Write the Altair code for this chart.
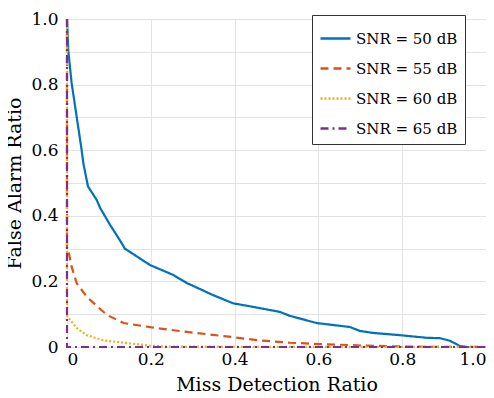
import altair as alt
import pandas as pd

labels = ["SNR = 50 dB", "SNR = 55 dB", "SNR = 60 dB", "SNR = 65 dB"]
colors = ["#0072BD", "#D95319", "#EDB120", "#7E2F8E"]
dashes = [[1, 0], [8, 5], [2, 2], [8, 4, 2, 4]]

x50 = [0, 0.003, 0.011, 0.035, 0.039, 0.05, 0.071, 0.079, 0.103, 0.126, 0.138, 0.198, 0.253, 0.286, 0.349,
       0.397, 0.433, 0.508, 0.532, 0.596, 0.675, 0.699, 0.730, 0.795, 0.859, 0.89, 0.914, 0.938, 0.955, 1.0]
y50 = [1.0, 0.905, 0.805, 0.60, 0.56, 0.49, 0.448, 0.424, 0.372, 0.326, 0.30, 0.25, 0.22, 0.195, 0.158,
       0.133, 0.125, 0.107, 0.095, 0.073, 0.061, 0.049, 0.043, 0.036, 0.028, 0.027, 0.019, 0.003, 0.0, 0.0]

x55 = [0, 0.0, 0.003, 0.011, 0.023, 0.047, 0.095, 0.135, 0.206, 0.286, 0.397, 0.433, 0.453, 0.532, 0.604,
       0.716, 0.82, 1.0]
y55 = [1.0, 0.30, 0.296, 0.245, 0.195, 0.153, 0.098, 0.073, 0.059, 0.046, 0.030, 0.024, 0.021, 0.013, 0.009,
       0.004, 0.001, 0.0]

x60 = [0, 0.0, 0.003, 0.023, 0.047, 0.087, 0.143, 0.198, 0.24, 1.0]
y60 = [1.0, 0.095, 0.09, 0.058, 0.036, 0.02, 0.012, 0.004, 0.001, 0.0]

x65 = [0, 0.0, 1.0]
y65 = [1.0, 0.0, 0.0]

rows = []
for lab, xs, ys in zip(labels, [x50, x55, x60, x65], [y50, y55, y60, y65]):
    for i, (a, b) in enumerate(zip(xs, ys)):
        rows.append({"series": lab, "x": a, "y": b, "order": i})
df = pd.DataFrame(rows)

font = "DejaVu Serif"

lines = alt.Chart(df).mark_line(strokeWidth=2.2, clip=False).encode(
    x=alt.X("x:Q", scale=alt.Scale(domain=[0, 1], nice=False),
            axis=alt.Axis(title="Miss Detection Ratio", values=[0, 0.2, 0.4, 0.6, 0.8, 1.0],
                          labelExpr="datum.value == 0 ? '0' : format(datum.value, '.1f')",
                          grid=True, gridColor="#e3e3e3", domain=False, ticks=False,
                          labelFont=font, labelFontSize=17, labelPadding=4,
                          titleFont=font, titleFontSize=19, titleFontWeight="normal",
                          titlePadding=8)),
    y=alt.Y("y:Q", scale=alt.Scale(domain=[0, 1], nice=False),
            axis=alt.Axis(title="False Alarm Ratio", values=[round(v * 0.1, 1) for v in range(11)],
                          labelExpr="datum.value == 0 ? '0' : (round(datum.value*10) % 2 == 0 ? format(datum.value, '.1f') : '')",
                          grid=True, gridColor="#e3e3e3", domain=False, ticks=False,
                          labelFont=font, labelFontSize=17, labelPadding=9,
                          titleFont=font, titleFontSize=19, titleFontWeight="normal",
                          titlePadding=6)),
    color=alt.Color("series:N", scale=alt.Scale(domain=labels, range=colors),
                    legend=alt.Legend(title=None, orient="none", legendX=245, legendY=-4,
                                      symbolType="stroke", symbolSize=900, symbolStrokeWidth=2.5,
                                      labelFont=font, labelFontSize=15,
                                      rowPadding=5, padding=7, fillColor="white",
                                      strokeColor="#333", labelLimit=200)),
    strokeDash=alt.StrokeDash("series:N", scale=alt.Scale(domain=labels, range=dashes), legend=None),
    order="order:O",
)

chart = lines.properties(
    width=419, height=328,
    autosize=alt.AutoSizeParams(type="none"),
    padding={"left": 59, "top": 11, "right": 0, "bottom": 50},
).configure_axis(labelFont=font, titleFont=font).configure_legend(labelFont=font, titleFont=font)

chart.save("out.html", embed_options={"renderer": "svg", "actions": False})
